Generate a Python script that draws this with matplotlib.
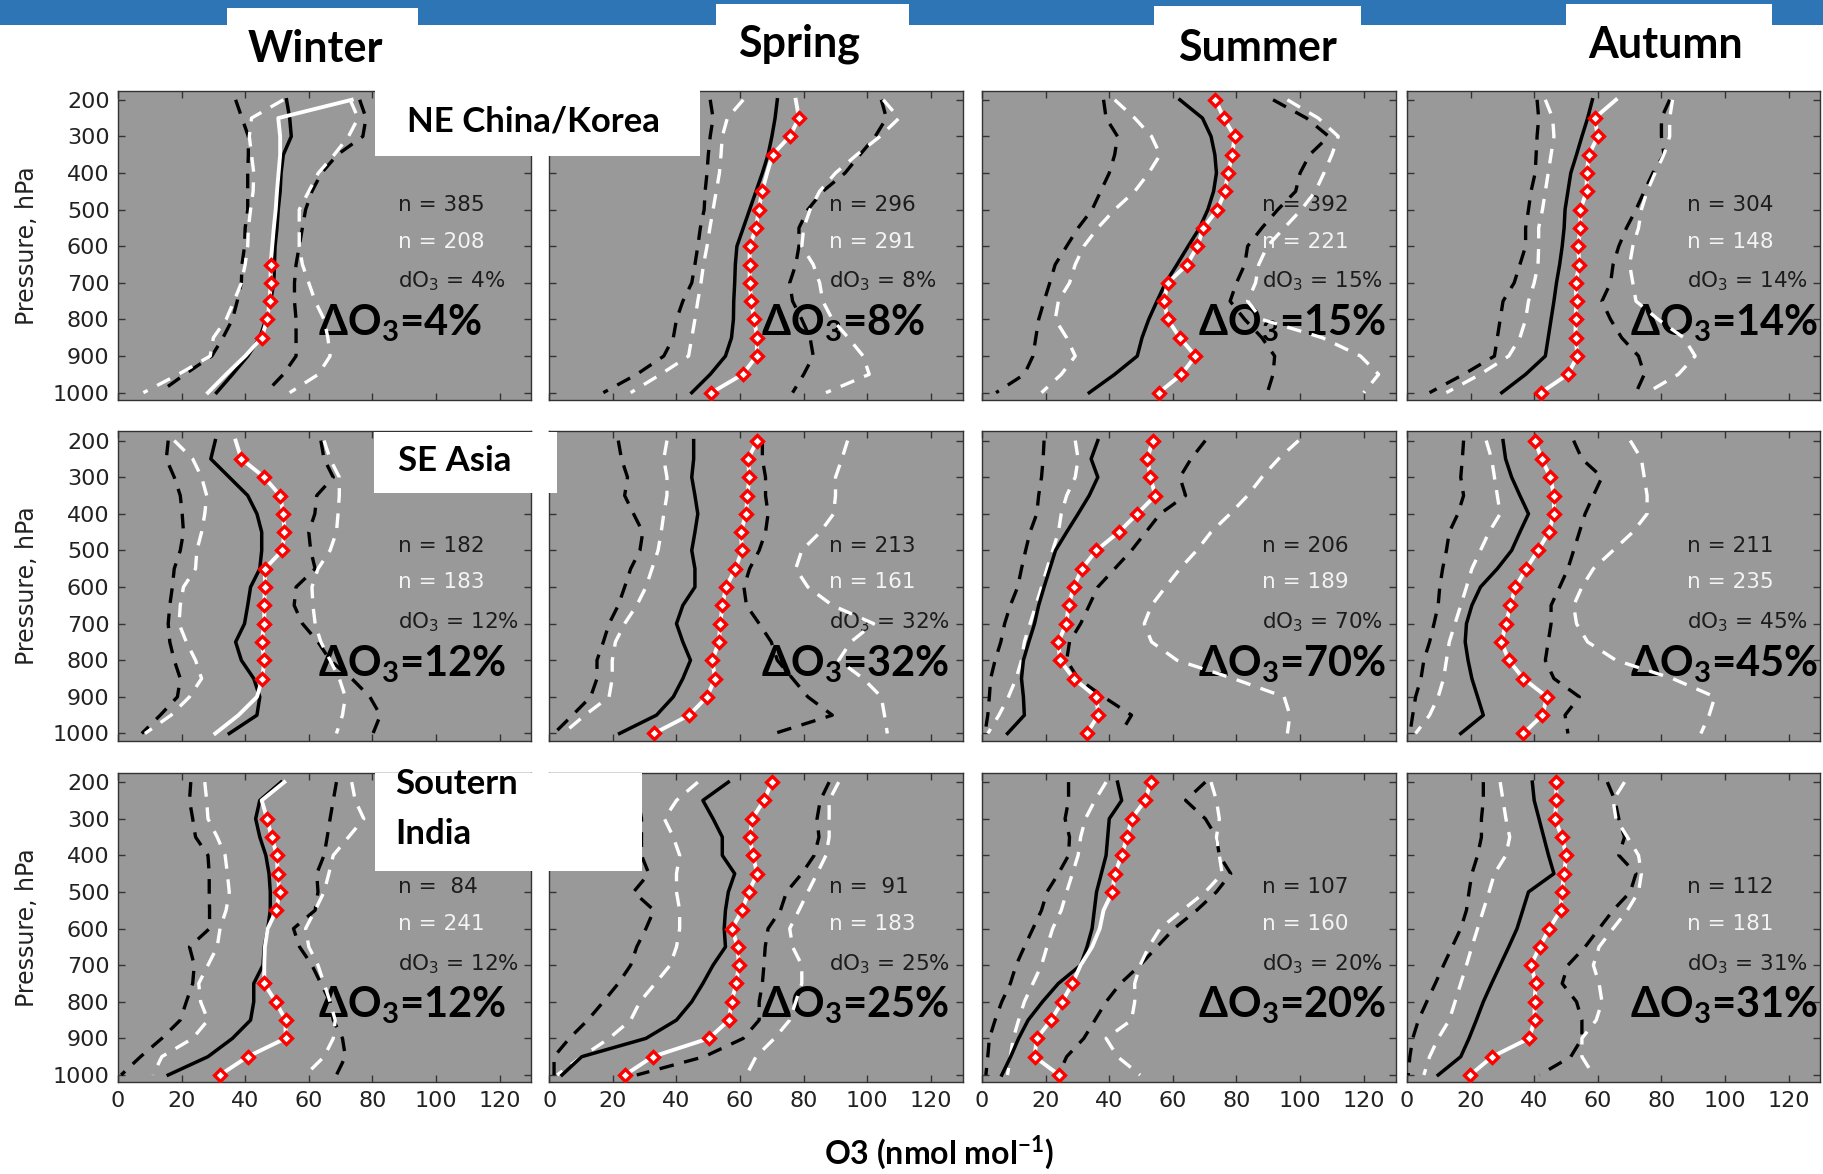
import matplotlib
matplotlib.use("Agg")
import matplotlib.pyplot as plt
from matplotlib.patches import Rectangle

plt.rcParams['mathtext.fontset'] = 'custom'
plt.rcParams['mathtext.rm'] = 'DejaVu Sans'
plt.rcParams['mathtext.bf'] = 'Lato:bold'

# pressure levels (hPa)
P = list(range(200, 1001, 50))

seasons = ['Winter', 'Spring', 'Summer', 'Autumn']
# panel order: NE China/Korea (Win, Spr, Sum, Aut), SE Asia (...), Southern India (...)
n_black = [385, 296, 392, 304, 182, 213, 206, 211, 84, 91, 107, 112]
n_white = [208, 291, 221, 148, 183, 161, 189, 235, 241, 183, 160, 181]
d_o3 = [4, 8, 15, 14, 12, 32, 70, 45, 12, 25, 20, 31]

# black solid (median)
black_med = [
    [53, 54, 54.5, 52, 51.3, 51, 50.4, 50, 49.4, 49.2, 49, 48, 46.5, 44.6, 40.8, 36, 31],
    [71.7, 71, 70, 68.8, 67, 65, 63, 61, 59, 58.5, 58.3, 58, 57.9, 57.3, 55.4, 50.6, 44.8],
    [62.2, 69.3, 72, 73.2, 73.7, 72.8, 71, 68.4, 64.8, 61.3, 57.7, 55, 52.4, 50.3, 48.8, 41.7, 33.7],
    [58.3, 56.8, 55, 53.3, 51.5, 50.6, 49.7, 49.4, 48.8, 48, 47, 46.2, 45.3, 44.4, 43.5, 37.3, 29.8],
    [30.6, 29.2, 35, 40.8, 43.7, 45.2, 45.2, 44.6, 41.7, 40.8, 39.8, 37, 38.8, 42.7, 44.6, 43.7, 35],
    [45.4, 45.4, 44.8, 45.8, 46.7, 45.8, 44.8, 45.8, 45.8, 42, 40, 42, 44.4, 42, 39, 33.7, 22.1],
    [36.4, 34.3, 36.4, 33.7, 30.2, 26.6, 23.1, 21.3, 19.5, 17.8, 16.5, 14.7, 13, 12.4, 13, 13.3, 8],
    [30.2, 31, 32.9, 35.5, 38.2, 35.5, 32.9, 28.4, 23.1, 20.4, 18.7, 18.3, 19.2, 20.4, 22.2, 24, 16.9],
    [51.3, 44.6, 43.3, 44.6, 46.5, 47.5, 47.9, 47.9, 47.1, 46, 45.6, 42.7, 42.7, 41.7, 36, 28.3, 15.8],
    [56.3, 48.3, 51.5, 54.4, 54.4, 58.3, 56.3, 55.4, 55, 55.4, 51.5, 48.3, 44.8, 40, 30.4, 10.2, 4],
    [42.6, 43.9, 40, 39.5, 39, 37.5, 36, 35.3, 34.6, 33, 31, 24, 19, 14.5, 11.5, 9, 6.2],
    [39.4, 40, 41.5, 43, 44.5, 46.2, 38.2, 36.4, 34.6, 32, 29.3, 26.6, 24, 21.8, 19.5, 16.9, 9.8],
]

# white solid (median, red diamonds where marked)
white_med = [
    [73.5, 50.4, 51, 51, 50.5, 50, 49.6, 49, 48.5, 48, 48, 47.7, 46.9, 45.2, 40, 34, 28.3],
    [77.5, 78.5, 75.6, 70.2, 68.5, 66.9, 65.9, 65, 63, 63, 63, 63.5, 64.4, 65.4, 65.2, 60.8, 51],
    [73.4, 76, 79.4, 78.7, 77.3, 76.4, 74, 69.6, 67.7, 64.5, 58.4, 57.2, 58.4, 62.2, 67.1, 62.7, 55.6],
    [65.7, 59, 60, 57.2, 56.5, 56.5, 54.5, 54.5, 53.8, 54.2, 53, 53.3, 53, 53, 53.6, 50.6, 42.1],
    [37, 38.8, 46, 51, 52, 52.3, 51.7, 46.2, 46.2, 46, 46, 45.2, 46, 45.4, 43.7, 37.9, 30.6],
    [65.4, 62.5, 62.9, 62.3, 61.9, 60.2, 60.6, 58.5, 55.6, 54.4, 53.8, 53.3, 51.3, 52.1, 49.6, 44, 32.9],
    [53.6, 52, 52.9, 54.5, 48.8, 43, 35.9, 31.4, 28.8, 27.2, 26.5, 24, 24.5, 28.8, 35.9, 36.6, 32.9],
    [40.3, 42.3, 45.1, 46.2, 46.2, 44.6, 41.2, 37.5, 34.1, 32.5, 31.1, 29.7, 32, 36.6, 44, 42.6, 36.6],
    [52.3, 45.2, 46.9, 48.3, 50, 50.2, 50.8, 49.8, 47.1, 46.2, 46, 46, 49.6, 52.7, 52.7, 40.8, 32.1],
    [70, 67.5, 63.8, 63.1, 64, 65.4, 62.7, 60.6, 57.5, 59.2, 59.6, 58.8, 57.3, 56.5, 50.2, 32.5, 23.8],
    [53, 51.3, 47, 45.6, 43.9, 41.7, 41, 38.2, 37, 34.6, 31, 28.4, 25.2, 21.7, 17.2, 16.5, 24.2],
    [46.9, 47, 46.5, 48.7, 50.1, 49.4, 48.7, 48.3, 44.8, 41.7, 39, 40.5, 40.1, 40.1, 38.4, 26.8, 19.9],
]

# black dashed, low / high
black_lo = [
    [37, 39, 41, 41, 40.8, 40.8, 40.8, 40, 39.8, 39, 38.8, 37.5, 36, 33, 29.5, 21, 13],
    [50.6, 51.5, 50.6, 50, 49.6, 49, 48.7, 47.5, 46.7, 45.8, 44.8, 42, 40, 39, 36, 27.5, 17],
    [38.2, 39, 42.6, 41.7, 40, 37.3, 34.6, 30.2, 26.6, 23, 21.3, 19.5, 17.8, 16.9, 16, 13.3, 4.4],
    [40.9, 41.4, 40.9, 40.6, 40.3, 39, 38.2, 37.3, 37.3, 35.5, 33.7, 30.2, 29.3, 28.4, 27.5, 17.8, 7.1],
    [15.8, 15.2, 17.7, 19.6, 20.2, 20.6, 19.6, 17.7, 17.1, 16.3, 15.8, 16.3, 17.7, 19.6, 18.7, 13.3, 7.5],
    [21.7, 22.7, 24.6, 23.7, 26.5, 29.4, 28.5, 25.6, 23.7, 21.7, 18.8, 17, 15, 15, 13, 7.3, 1.5],
    [19.5, 19.2, 18.7, 17.8, 17.2, 15.1, 13.7, 12.4, 11.2, 8.9, 7.1, 5.9, 4.1, 2.7, 2.3, 1.8, 0.9],
    [17.8, 17.4, 16.9, 17.8, 16, 13.3, 12.4, 11.2, 10.3, 9.8, 8.5, 7.1, 5.3, 4.4, 2.7, 1.8, 0.9],
    [22.9, 22.5, 23.5, 24.4, 28.3, 28.7, 28.7, 28.8, 28.8, 22.5, 24, 23.5, 21.5, 19.6, 13.8, 7.1, 1],
    [27, 28, 29, 29, 29, 31.3, 26.5, 32.9, 30.4, 27.5, 25.6, 21.7, 17, 12.1, 6.3, 1.5, 1.5],
    [27.2, 27.2, 26.1, 27.5, 27.2, 24, 20.4, 18.7, 16, 13.3, 10.7, 8.9, 6.2, 4.1, 2.3, 1.8, 1.2],
    [24, 24, 23.4, 23.4, 22.2, 20.4, 19.5, 18.7, 16.9, 14.2, 11.5, 8.9, 6.2, 3.6, 1.8, 0.9, 0.4],
]
black_hi = [
    [76, 78, 77, 69, 64, 61, 59, 58, 57, 56, 55.5, 55.5, 56, 56, 56, 52, 46.5],
    [104.4, 106, 102.5, 97.7, 93, 86, 81.3, 78.5, 78.5, 77.5, 75.6, 76.5, 79.4, 82, 83, 80, 76.5],
    [91.5, 102, 109, 103, 100, 98.6, 93, 88, 83.5, 82.6, 80, 78, 82.6, 88, 92, 91.5, 89.7],
    [82.6, 80, 80, 80.8, 77.3, 74.6, 72, 69, 66.6, 64.8, 64, 61.3, 64, 67.5, 72.8, 74.6, 72],
    [63.8, 64.8, 67.7, 62.5, 61.9, 60, 60.6, 62, 56, 55.4, 58, 62.9, 66.7, 73.5, 79.2, 82.5, 80.2],
    [67, 67, 68, 68, 68.8, 68, 66, 63, 61.2, 62, 66, 69.8, 71.7, 76.5, 81.3, 89, 70.8],
    [70.2, 65.7, 62.2, 64, 56, 51.5, 47, 41.7, 36.4, 33.7, 31, 27.5, 26.6, 30.2, 38.2, 47, 43.5],
    [52.4, 55, 61.3, 58.6, 56, 54.2, 52.4, 50.6, 48, 45.3, 45.3, 44.4, 43.5, 46.2, 54.2, 49.7, 50.6],
    [68.7, 67.7, 66.7, 65.8, 64.8, 62.5, 62.9, 62, 55.2, 57.1, 61, 63.8, 66.7, 67.7, 70.6, 71.5, 68.7],
    [88, 85.2, 84.2, 84.8, 83.3, 79.4, 74.6, 72.7, 68.8, 67.9, 67.5, 67, 66, 66, 61, 48.7, 27.5],
    [70.2, 64, 70.2, 73.7, 74.6, 78.2, 73.7, 67.5, 60.4, 55, 49.7, 43.5, 39, 35.5, 32, 26.6, 24],
    [63, 65.4, 66.6, 68.4, 66.6, 72, 70.2, 64.8, 60.4, 56, 50.6, 48.8, 53.3, 55, 55, 51.5, 41.7],
]

# white dashed, low / high
white_lo = [
    [52, 42, 41.3, 42, 42.7, 42.5, 41.7, 41, 40.8, 40, 38.8, 36.5, 34, 30, 29, 19, 8],
    [61, 56, 54.4, 54, 53.5, 52.5, 51.5, 50.5, 49.6, 48.5, 47.7, 46.7, 45.8, 44.8, 43.8, 35, 25.6],
    [41.7, 48, 53.3, 56, 52.4, 48, 41.7, 36.4, 32, 29.3, 27.5, 24, 23, 26.6, 29.3, 24.9, 18.7],
    [43.5, 45.8, 46.2, 45.3, 44.4, 43.5, 42.6, 41.4, 41.4, 41.2, 40, 38.2, 37.3, 35.5, 32, 23, 12.4],
    [17.7, 23.5, 26.3, 27.9, 27.3, 26.3, 24.8, 24.4, 20.6, 19.6, 19.2, 21.5, 24.4, 26.3, 22.5, 16.7, 8.5],
    [37, 36, 37, 37, 36, 35.2, 34.2, 32.3, 30.4, 27.5, 23.7, 20.8, 19.8, 19.8, 18.8, 11.2, 4.4],
    [29.3, 30.2, 29.3, 26.6, 24.9, 24, 22.2, 20.4, 18.7, 16.9, 15.1, 13.3, 12.4, 10.7, 8.3, 5.3, 1.8],
    [24.9, 26.6, 27.5, 28.4, 29.3, 25.8, 23.1, 20.4, 18.7, 16.9, 15.1, 13.3, 12.4, 11.5, 9.8, 7.1, 2.7],
    [27.3, 27.9, 28.3, 31.2, 33.7, 34.4, 35, 34, 32.1, 31.2, 28.3, 25.4, 26, 28.3, 23.5, 13.8, 11],
    [46.7, 40, 36.2, 39, 41, 40, 40, 41, 41, 40, 38, 33.3, 28.5, 25.6, 18.8, 10.2, 2.5],
    [39, 35.5, 32.5, 31, 30.2, 28.4, 26.6, 24.9, 22.2, 20.4, 18.7, 16, 13.3, 11.5, 9.8, 8.9, 8],
    [29.3, 30.2, 31.1, 32.3, 31.1, 27.5, 25.8, 24, 22.2, 20.4, 18.7, 16.9, 15.1, 13.3, 9.8, 7.1, 5.3],
]
white_hi = [
    [73, 75.5, 72.5, 68, 63, 60, 57, 57, 57, 58, 60, 62, 64.8, 66, 66.7, 63, 54],
    [105, 110, 104, 96.7, 90, 85, 82, 80, 79.4, 83, 85, 86, 89, 94, 98.7, 100.6, 87],
    [96, 105.7, 112, 110, 107.5, 104.8, 100.4, 95, 89.7, 87, 86, 83.5, 88, 107, 119, 124.7, 120],
    [83.5, 82.6, 82.6, 80.8, 78, 75.5, 73.7, 72.8, 71, 70, 71, 72, 79, 87, 90.6, 85.3, 75.5],
    [64.8, 66.7, 69.6, 69.6, 69.2, 68.7, 66.7, 62.9, 61, 61.3, 62, 63.8, 66.7, 69.6, 71.5, 70.6, 68.7],
    [93.8, 92, 90, 90, 89.4, 85.2, 79.4, 77.5, 81.3, 89, 102, 94.8, 91, 98.7, 104.4, 105.4, 106.3],
    [99.5, 93.2, 88, 83.5, 78, 72, 67.5, 62.2, 57.7, 53.3, 51, 53.3, 61.3, 79, 95, 96.8, 96],
    [70.2, 73.7, 74.6, 75.5, 75.5, 71, 64.8, 58.6, 55, 52.4, 53.3, 56.8, 65.7, 83.5, 96.8, 95, 92.4],
    [73.5, 74.6, 77.3, 72.5, 67.7, 66.3, 64.8, 62, 59, 60, 62.9, 64.8, 66.7, 68.3, 67.7, 64.8, 59],
    [91, 88, 88, 88, 87, 84.2, 81.3, 78.5, 75.6, 76.5, 79.4, 79.4, 77.5, 75.6, 70.8, 65, 62],
    [72, 73.7, 74.6, 73.7, 74.6, 75.5, 70.2, 63, 56, 52.4, 49.7, 48, 48, 47, 39, 42.6, 49.7],
    [68.4, 64.8, 65.7, 69.3, 72.8, 73.7, 72.8, 69.3, 64.8, 60.4, 58.6, 60.4, 61.3, 59.5, 55, 55, 58.6],
]

# levels where the white median carries a red diamond
ALL = P
marker_levels = [
    [650, 700, 750, 800, 850],
    [250, 300, 350] + list(range(450, 1001, 50)),
    ALL,
    list(range(250, 1001, 50)),
    list(range(250, 851, 50)),
    ALL,
    ALL,
    ALL,
    list(range(300, 551, 50)) + list(range(750, 1001, 50)),
    ALL,
    list(range(200, 501, 50)) + list(range(750, 1001, 50)),
    ALL,
]

delta_x = [63, 66.5, 68, 70]   # left edge of the big dO3 label per column

fig = plt.figure(figsize=(18.23, 11.74), dpi=100)
col_left = [0.0647, 0.3013, 0.5387, 0.7718]
row_bottom = [0.6593, 0.369, 0.0781]
ax_w, ax_h = 0.2268, 0.2635

for k in range(12):
    r, c = divmod(k, 4)
    ax = fig.add_axes([col_left[c], row_bottom[r], ax_w, ax_h])
    ax.set_facecolor('#999999')

    dash = dict(lw=2.4, dashes=(4.4, 3.2))
    ax.plot(black_lo[k], P, color='black', zorder=3, **dash)
    ax.plot(black_hi[k], P, color='black', zorder=3, **dash)
    ax.plot(white_lo[k], P, color='white', zorder=3, **dash)
    ax.plot(white_hi[k], P, color='white', zorder=3, **dash)
    ax.plot(black_med[k], P, color='black', lw=2.5, zorder=4)
    ax.plot(white_med[k], P, color='white', lw=2.8, zorder=5)
    mk = marker_levels[k]
    ax.plot([white_med[k][P.index(p)] for p in mk], mk, ls='none', marker='D',
            ms=6, mfc='white', mec='red', mew=2.4, zorder=6)

    ax.text(88, 504, f'n = {n_black[k]:3d}', fontsize=15.5, color='#1c1c1c', zorder=2)
    ax.text(88, 604, f'n = {n_white[k]:3d}', fontsize=15.5, color='#f4f4f4', zorder=2)
    ax.text(88, 713, f'dO$_3$ = {d_o3[k]}%', fontsize=15.5, color='#1c1c1c', zorder=2)
    ax.text(delta_x[c], 843, 'ΔO$_\\mathbf{3}$=' + f'{d_o3[k]}%', fontsize=30,
            family=['Lato', 'DejaVu Sans'], weight='bold', color='black', zorder=2)

    ax.set_xlim(0, 130)
    ax.set_ylim(1020, 175)
    ax.set_xticks([0, 20, 40, 60, 80, 100, 120])
    ax.set_yticks([200, 300, 400, 500, 600, 700, 800, 900, 1000])
    ax.tick_params(direction='in', top=True, right=True, length=5, width=1,
                   color='#333333', labelsize=16, labelcolor='#222222', pad=6)
    for s in ax.spines.values():
        s.set_color('#333333')
        s.set_linewidth(1)
    if c == 0:
        ax.set_ylabel('Pressure, hPa', fontsize=17, color='#222222')
        ax.yaxis.set_label_coords(-0.19, 0.5)
    else:
        ax.set_yticklabels([])
    if r < 2:
        ax.set_xticklabels([])

# blue band and season headers
fig.add_artist(Rectangle((0, 0.9787), 1, 0.0213, transform=fig.transFigure,
                         facecolor='#2E75B6', edgecolor='none', zorder=3))
head_boxes = [(0.1243, 0.993), (0.393, 0.9966), (0.633, 0.995), (0.859, 0.9966)]
head_w = [0.105, 0.1058, 0.1137, 0.113]
for (x0, top), w in zip(head_boxes, head_w):
    fig.add_artist(Rectangle((x0, 0.97), w, top - 0.97, transform=fig.transFigure,
                             facecolor='white', edgecolor='none', zorder=4))
title_x = [0.1729, 0.4384, 0.6896, 0.9138]
title_y = [0.9475, 0.9517, 0.9483, 0.951]
for s, x, y in zip(seasons, title_x, title_y):
    fig.text(x, y, s, ha='center', va='baseline', fontsize=31, weight='bold',
             family=['Lato', 'DejaVu Sans'], zorder=6)

# region labels in white boxes
fig.add_artist(Rectangle((0.2057, 0.867), 0.1783, 0.0572, transform=fig.transFigure,
                         facecolor='white', edgecolor='none', zorder=5))
fig.text(0.2925, 0.8963, 'NE China/Korea', ha='center', va='center', fontsize=25,
         weight='bold', family=['Lato', 'DejaVu Sans'], zorder=6)
fig.add_artist(Rectangle((0.2049, 0.5798), 0.1008, 0.0525, transform=fig.transFigure,
                         facecolor='white', edgecolor='none', zorder=5))
fig.text(0.2494, 0.6075, 'SE Asia', ha='center', va='center', fontsize=25,
         weight='bold', family=['Lato', 'DejaVu Sans'], zorder=6)
fig.add_artist(Rectangle((0.2056, 0.2584), 0.1464, 0.0834, transform=fig.transFigure,
                         facecolor='white', edgecolor='none', zorder=5))
fig.text(0.2167, 0.332, 'Soutern', ha='left', va='center', fontsize=25,
         weight='bold', family=['Lato', 'DejaVu Sans'], zorder=6)
fig.text(0.2167, 0.2896, 'India', ha='left', va='center', fontsize=25,
         weight='bold', family=['Lato', 'DejaVu Sans'], zorder=6)

fig.text(0.515, 0.018, 'O3 (nmol mol$^{\\mathbf{-1}}$)', ha='center', va='center',
         fontsize=23, weight='bold', family=['Lato', 'DejaVu Sans'])

fig.savefig('out.png', dpi=100, facecolor='white')
